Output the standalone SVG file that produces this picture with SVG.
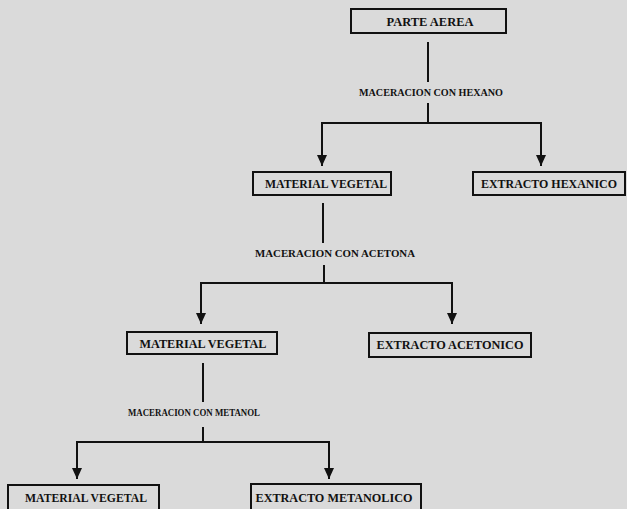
<svg xmlns="http://www.w3.org/2000/svg" width="627" height="509" viewBox="0 0 627 509">
<defs>
<marker id="arr" markerUnits="userSpaceOnUse" markerWidth="12" markerHeight="10" refX="11" refY="5" orient="auto" viewBox="0 0 12 10">
<path d="M0,0 L11,5 L0,10 Z" fill="#111"/>
</marker>
<style>
.box{fill:none;stroke:#111;stroke-width:2}
.t{font-family:"Liberation Serif",serif;font-weight:bold;font-size:12px;fill:#111;text-anchor:middle}
.l{font-family:"Liberation Serif",serif;font-weight:bold;font-size:10px;fill:#111;text-anchor:middle}
.c{fill:none;stroke:#111;stroke-width:2}
.a{fill:none;stroke:#111;stroke-width:2;marker-end:url(#arr)}
</style>
</defs>
<rect width="627" height="509" fill="#dadada"/>
<g id="connectors">
<line class="c" x1="428" y1="42" x2="428" y2="82"/>
<text class="l" x="431" y="96" textLength="144" lengthAdjust="spacingAndGlyphs">MACERACION CON HEXANO</text>
<line class="c" x1="428" y1="103" x2="428" y2="123"/>
<line class="c" x1="321" y1="123" x2="542" y2="123"/>
<line class="a" x1="322" y1="123" x2="322" y2="166"/>
<line class="a" x1="541" y1="123" x2="541" y2="166"/>
<line class="c" x1="323" y1="203" x2="323" y2="243"/>
<text class="l" x="335" y="257" textLength="160" lengthAdjust="spacingAndGlyphs">MACERACION CON ACETONA</text>
<line class="c" x1="324" y1="265" x2="324" y2="283"/>
<line class="c" x1="200" y1="283" x2="453" y2="283"/>
<line class="a" x1="201" y1="283" x2="201" y2="324"/>
<line class="a" x1="452" y1="283" x2="452" y2="324"/>
<line class="c" x1="203" y1="363" x2="203" y2="402"/>
<text class="l" x="194" y="416" textLength="132" lengthAdjust="spacingAndGlyphs">MACERACION CON METANOL</text>
<line class="c" x1="203" y1="427" x2="203" y2="442"/>
<line class="c" x1="76" y1="442" x2="330" y2="442"/>
<line class="a" x1="77" y1="442" x2="77" y2="479"/>
<line class="a" x1="329" y1="442" x2="329" y2="479"/>
</g>
<g id="parte-aerea">
<rect class="box" x="351" y="9" width="155" height="24"/>
<text class="t" x="430" y="26" textLength="87" lengthAdjust="spacingAndGlyphs">PARTE AEREA</text>
</g>
<g id="material-vegetal-1">
<rect class="box" x="253" y="172" width="138" height="23"/>
<text class="t" x="326" y="188" textLength="122" lengthAdjust="spacingAndGlyphs">MATERIAL VEGETAL</text>
</g>
<g id="extracto-hexanico">
<rect class="box" x="473" y="172" width="152" height="23"/>
<text class="t" x="549" y="188" textLength="136" lengthAdjust="spacingAndGlyphs">EXTRACTO HEXANICO</text>
</g>
<g id="material-vegetal-2">
<rect class="box" x="127" y="332" width="150" height="22"/>
<text class="t" x="203" y="348" textLength="127" lengthAdjust="spacingAndGlyphs">MATERIAL VEGETAL</text>
</g>
<g id="extracto-acetonico">
<rect class="box" x="369" y="333" width="162" height="24"/>
<text class="t" x="450" y="349" textLength="147" lengthAdjust="spacingAndGlyphs">EXTRACTO ACETONICO</text>
</g>
<g id="material-vegetal-3">
<rect class="box" x="8" y="485" width="151" height="30"/>
<text class="t" x="86" y="502" textLength="122" lengthAdjust="spacingAndGlyphs">MATERIAL VEGETAL</text>
</g>
<g id="extracto-metanolico">
<rect class="box" x="251" y="484" width="170" height="30"/>
<text class="t" x="334" y="502" textLength="157" lengthAdjust="spacingAndGlyphs">EXTRACTO METANOLICO</text>
</g>
</svg>
